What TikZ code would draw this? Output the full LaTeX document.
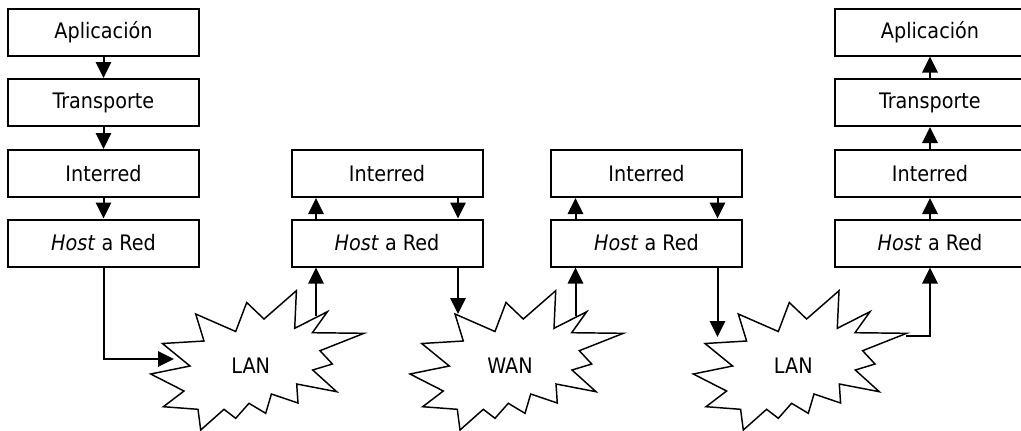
\documentclass[tikz,border=0pt]{standalone}
\usepackage{fontspec}
\setmainfont{DejaVu Sans Condensed}
\usetikzlibrary{arrows.meta}

% outline of the burst used for the networks, origin at its left tip
\newcommand\netburst[2]{%
  \draw[burst, shift={#1}] (0,0) -- (39.3,-8) -- (11.7,-30.5) -- (53.3,-33)
    -- (45,-60) -- (85,-42.5) -- (96,-71.5) -- (113.3,-55) -- (145.7,-83.3)
    -- (144,-45.7) -- (176.7,-62.3) -- (161.7,-41.3) -- (213.3,-40.7)
    -- (169.3,-23.3) -- (181.7,-10) -- (162,-4) -- (186,17.7) -- (146,10)
    -- (147.3,29) -- (120.7,20) -- (115,39.3) -- (98.3,29.3) -- (85,44.3)
    -- (73.3,35.3) -- (50,56) -- (47.3,35.3) -- (12.7,32.7) -- (33.3,17)
    -- cycle;
  \node[netlabel, shift={#1}] at (100,-8) {#2};}

\begin{document}
\begin{tikzpicture}[x=0.75pt, y=-0.75pt,
  layer/.style={draw, line width=1.5pt, minimum width=143.25pt,
    minimum height=35.25pt, inner sep=0pt, font=\fontsize{16}{19}\selectfont},
  link/.style={line width=1.5pt, -{Triangle[length=12pt,width=11.5pt]}},
  burst/.style={draw, line width=1.1pt, fill=white, line join=miter},
  netlabel/.style={inner sep=0pt, font=\fontsize{16}{19}\selectfont}]

\useasboundingbox (0,0) rectangle (1021,430);

% source host
\node[layer] (a1) at (103.5,32)  {Aplicación};
\node[layer] (a2) at (103.5,102.5) {Transporte};
\node[layer] (a3) at (103.5,173.5) {Interred};
\node[layer] (a4) at (103.5,243) {\textit{Host} a Red};

% first router
\node[layer] (b3) at (387,173.5) {Interred};
\node[layer] (b4) at (387,243)   {\textit{Host} a Red};

% second router
\node[layer] (c3) at (646.5,173.5) {Interred};
\node[layer] (c4) at (646.5,243)   {\textit{Host} a Red};

% destination host
\node[layer] (d1) at (930,32)    {Aplicación};
\node[layer] (d2) at (930,102.5) {Transporte};
\node[layer] (d3) at (930,173.5) {Interred};
\node[layer] (d4) at (930,243)   {\textit{Host} a Red};

% networks
\netburst{(150.7,374)}{LAN}
\netburst{(410,374)}{WAN}
\netburst{(693.3,374)}{LAN}

% where the links meet the networks
\coordinate (lan1in)  at (174,359);
\coordinate (lan1out) at (316,316);
\coordinate (wanin)   at (458,314);
\coordinate (wanout)  at (575.5,316);
\coordinate (lan2in)  at (717.5,337);
\coordinate (lan2out) at (906,336);

% down the source stack
\draw[link] (a1.south) -- (a2.north);
\draw[link] (a2.south) -- (a3.north);
\draw[link] (a3.south) -- (a4.north);
\draw[link] (a4.south) |- (lan1in);

% first router
\draw[link] (lan1out) -- (lan1out |- b4.south);
\draw[link] ([xshift=-53.25pt]b4.north) -- ([xshift=-53.25pt]b3.south);
\draw[link] ([xshift=53.25pt]b3.south) -- ([xshift=53.25pt]b4.north);
\draw[link] (wanin |- b4.south) -- (wanin);

% second router
\draw[link] (wanout) -- (wanout |- c4.south);
\draw[link] ([xshift=-53.25pt]c4.north) -- ([xshift=-53.25pt]c3.south);
\draw[link] ([xshift=53.25pt]c3.south) -- ([xshift=53.25pt]c4.north);
\draw[link] (lan2in |- c4.south) -- (lan2in);

% up the destination stack
\draw[link] (lan2out) -| (d4.south);
\draw[link] (d4.north) -- (d3.south);
\draw[link] (d3.north) -- (d2.south);
\draw[link] (d2.north) -- (d1.south);

\end{tikzpicture}
\end{document}
